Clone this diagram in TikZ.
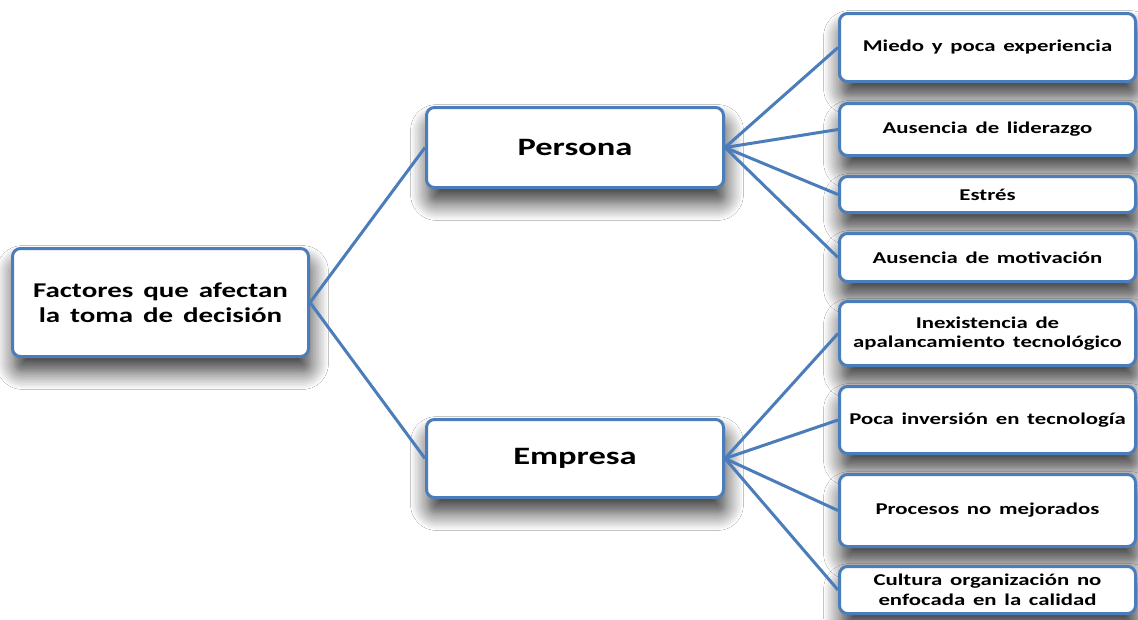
\documentclass[tikz,border=0pt]{standalone}
\usepackage{fontspec}
\setmainfont{Carlito}[FakeStretch=1.38, WordSpace=1.5]
\usetikzlibrary{shadows.blur}
\definecolor{boxblue}{HTML}{4A7DBA}
\tikzset{
  box/.style={draw=boxblue, line width=3pt, fill=white, rounded corners=8pt,
    align=center, inner sep=2pt, font=\bfseries,
    blur shadow={shadow xshift=2pt, shadow yshift=-15pt, shadow blur radius=18pt,
      shadow opacity=80, shadow blur steps=12}},
  leaf/.style={box, minimum width=296pt, font=\bfseries\fontsize{16.5}{19.5}\selectfont},
  link/.style={draw=boxblue, line width=3pt}
}
\begin{document}
\begin{tikzpicture}[x=1pt, y=-1pt]
\useasboundingbox (0,0) rectangle (1138,619);
\fill[white] (0,0) rectangle (1138,619);

% main boxes
\node[box, minimum width=296pt, minimum height=108pt,
  font=\bfseries\fontsize{21}{25}\selectfont] (root) at (160.5,302.5)
  {Factores que afectan\\la toma de decisión};
\node[box, minimum width=297pt, minimum height=80pt,
  font=\bfseries\fontsize{25}{30}\selectfont] (persona) at (575,147.5) {Persona};
\node[box, minimum width=297pt, minimum height=78pt,
  font=\bfseries\fontsize{25}{30}\selectfont] (empresa) at (575,458.5) {Empresa};

% personal factors
\node[leaf, minimum height=68pt] (p1) at (987.5,47.5) {Miedo y poca experiencia};
\node[leaf, minimum height=52pt] (p2) at (987.5,129.5) {Ausencia de liderazgo};
\node[leaf, minimum height=36pt] (p3) at (987.5,194.5) {Estrés};
\node[leaf, minimum height=48pt] (p4) at (987.5,257.5) {Ausencia de motivación};

% company factors
\node[leaf, minimum height=64pt] (e1) at (987.5,333.5) {Inexistencia de\\apalancamiento tecnológico};
\node[leaf, minimum height=67pt] (e2) at (987.5,420) {Poca inversión en tecnología};
\node[leaf, minimum height=72pt] (e3) at (987.5,510.5) {Procesos no mejorados};
\node[leaf, minimum height=47pt] (e4) at (987.5,590) {Cultura organización no\\enfocada en la calidad};

% connectors
\draw[link] (root.east) -- (persona.west);
\draw[link] (root.east) -- (empresa.west);
\foreach \n in {p1,p2,p3,p4} \draw[link] (persona.east) -- (\n.west);
\foreach \n in {e1,e2,e3,e4} \draw[link] (empresa.east) -- (\n.west);
\end{tikzpicture}
\end{document}
